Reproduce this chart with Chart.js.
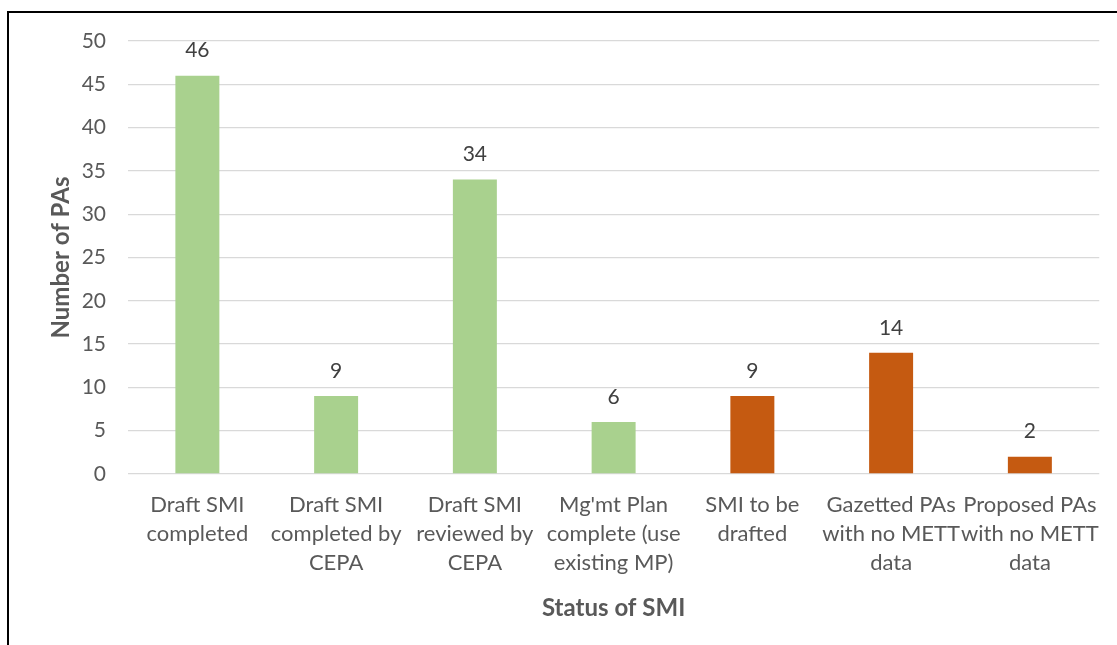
<!DOCTYPE html>
<html>
<head>
<meta charset="utf-8">
<script src="https://cdn.jsdelivr.net/npm/chart.js@4/dist/chart.umd.min.js"></script>
<style>
  html, body { margin: 0; padding: 0; background: #fff; }
  #wrap { position: relative; width: 1117px; height: 645px; overflow: hidden; }
  #chart { position: absolute; left: 0; top: 0; }
  #frame {
    position: absolute; left: 7px; top: 11px; right: -10px; bottom: -10px;
    border-top: 2px solid #000; border-left: 2px solid #000;
    pointer-events: none;
  }
</style>
</head>
<body>
<div id="wrap">
  <canvas id="chart" width="1117" height="645"></canvas>
  <div id="frame"></div>
</div>
<script>
// --- Data ---
const categories = [
  ["Draft SMI", "completed"],
  ["Draft SMI", "completed by", "CEPA"],
  ["Draft SMI", "reviewed by", "CEPA"],
  ["Mg'mt Plan", "complete (use", "existing MP)"],
  ["SMI to be", "drafted"],
  ["Gazetted PAs", "with no METT", "data"],
  ["Proposed PAs", "with no METT", "data"]
];
const counts = [46, 9, 34, 6, 9, 14, 2];
const barColors = ["#A9D18E", "#A9D18E", "#A9D18E", "#A9D18E", "#C55A11", "#C55A11", "#C55A11"];
const yTicks = { min: 0, max: 50, step: 5 };

const textGrey = "#595959";
const fontFamily = "Lato, 'Open Sans', sans-serif";

// --- Value labels above bars ---
const valueLabels = {
  id: "valueLabels",
  afterDatasetsDraw(chart) {
    const ctx = chart.ctx;
    const meta = chart.getDatasetMeta(0);
    ctx.save();
    ctx.font = "21px " + fontFamily;
    ctx.fillStyle = "#404040";
    ctx.textAlign = "center";
    ctx.textBaseline = "middle";
    meta.data.forEach((bar, i) => {
      ctx.fillText(String(counts[i]), bar.x, bar.y - 25);
    });
    ctx.restore();
  }
};

new Chart(document.getElementById("chart"), {
  type: "bar",
  data: {
    labels: categories,
    datasets: [{
      data: counts,
      backgroundColor: barColors,
      borderWidth: 0,
      barPercentage: 0.317,
      categoryPercentage: 1
    }]
  },
  options: {
    responsive: false,
    animation: false,
    layout: { padding: { top: 41, right: 17, left: 0, bottom: 0 } },
    plugins: {
      legend: { display: false },
      tooltip: { enabled: false }
    },
    scales: {
      x: {
        grid: { display: false, drawTicks: false },
        border: { display: false },
        ticks: {
          color: textGrey,
          font: { family: fontFamily, size: 22, lineHeight: 1.3 },
          padding: 17,
          maxRotation: 0,
          autoSkip: false
        },
        title: {
          display: true,
          text: "Status of SMI",
          color: textGrey,
          font: { family: fontFamily, size: 24, weight: "bold" },
          padding: { top: 14, bottom: 22 }
        },
        afterFit(scale) { scale.height = 171; }
      },
      y: {
        min: yTicks.min,
        max: yTicks.max,
        grid: { color: "#D9D9D9", lineWidth: 1.3, drawTicks: false },
        border: { display: false },
        ticks: {
          stepSize: yTicks.step,
          color: textGrey,
          font: { family: fontFamily, size: 21 },
          padding: 22
        },
        title: {
          display: true,
          text: "Number of PAs",
          color: textGrey,
          font: { family: fontFamily, size: 24, weight: "bold" },
          padding: { top: 47, bottom: 0 }
        },
        afterFit(scale) { scale.width = 128; }
      }
    }
  },
  plugins: [valueLabels]
});
</script>
</body>
</html>
